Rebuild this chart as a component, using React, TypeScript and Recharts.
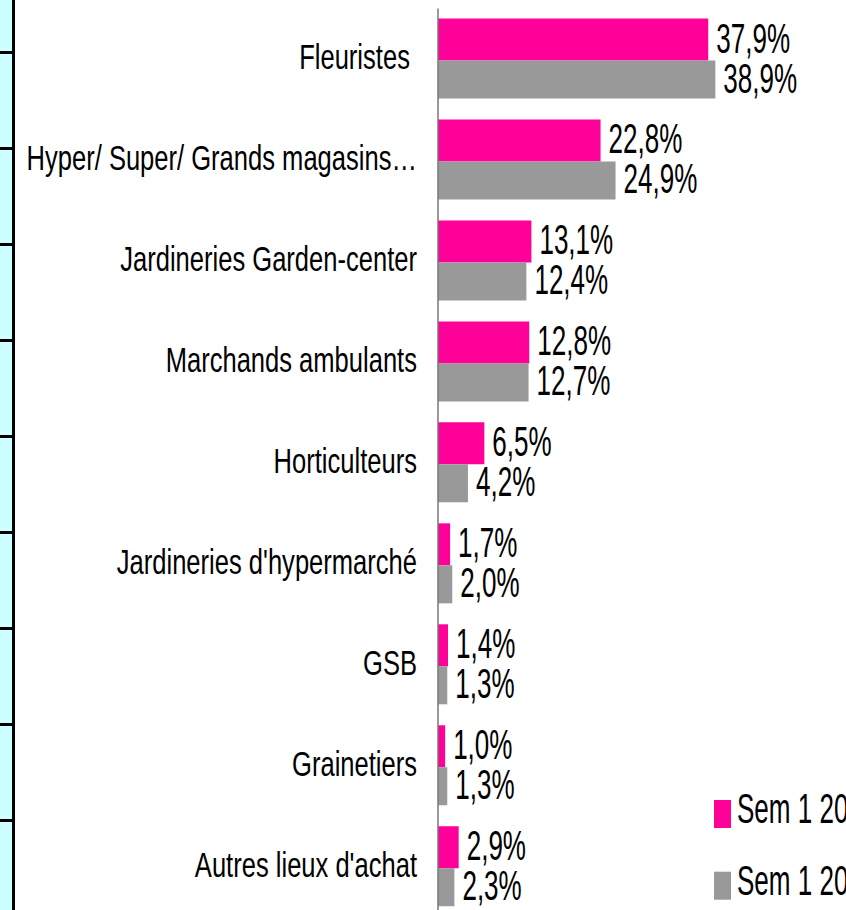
import React from 'react';
import { BarChart, Bar, XAxis, YAxis, Legend, LabelList } from 'recharts';

const categories = [
  'Fleuristes ',
  'Hyper/ Super/ Grands magasins…',
  'Jardineries Garden-center',
  'Marchands ambulants',
  'Horticulteurs',
  "Jardineries d'hypermarché",
  'GSB',
  'Grainetiers',
  "Autres lieux d'achat",
];
const seriesNames = ['Sem 1 2009', 'Sem 1 2008'];
const valuesA = [37.9, 22.8, 13.1, 12.8, 6.5, 1.7, 1.4, 1.0, 2.9];
const valuesB = [38.9, 24.9, 12.4, 12.7, 4.2, 2.0, 1.3, 1.3, 2.3];
const stripTickCount = 9;

const data = categories.map((name, i) => ({ name, a: valuesA[i], b: valuesB[i] }));

const FONT = '"Liberation Sans", Arial, sans-serif';
const PINK = '#FF0099';
const GRAY = '#999999';

const fmt = (v: number) => v.toFixed(1).replace('.', ',') + '%';

const CategoryTick = (props: any) => {
  const { x, y, payload } = props;
  return (
    <text
      transform={`translate(${x - 21},${y + 10.5}) scale(0.71,1)`}
      textAnchor="end"
      fontSize={36}
      fontFamily={FONT}
      fill="#000"
      style={{ whiteSpace: 'pre' }}
    >
      {payload.value}
    </text>
  );
};

const ValueLabel = (props: any) => {
  const { x, y, width, height, value } = props;
  return (
    <text
      transform={`translate(${x + width + 8},${y + height / 2 + 13}) scale(0.62,1)`}
      fontSize={42}
      fontFamily={FONT}
      fill="#000"
    >
      {fmt(value)}
    </text>
  );
};

const LegendContent = (props: any) => {
  const payload = [...(props.payload || [])].sort(
    (p: any, q: any) => seriesNames.indexOf(p.value) - seriesNames.indexOf(q.value)
  );
  return (
    <svg width={132} height={120} style={{ display: 'block' }}>
      {payload.map((p: any, i: number) => (
        <g key={i}>
          <rect x={0} y={10 + i * 71.7} width={17} height={28} fill={p.color} />
          <text
            transform={`translate(23,${10 + i * 71.7 + 23}) scale(0.62,1)`}
            fontSize={42}
            fontFamily={FONT}
            fill="#000"
          >
            {p.value}
          </text>
        </g>
      ))}
    </svg>
  );
};

export default function App() {
  const ticks = Array.from({ length: stripTickCount }, (_, i) => 52 + i * 96);
  return (
    <div
      style={{
        position: 'fixed',
        left: 0,
        top: 0,
        width: 846,
        height: 910,
        overflow: 'hidden',
        background: '#fff',
      }}
    >
      <div style={{ position: 'absolute', left: 0, top: 0, width: 12, height: 910, background: '#CCFFFF' }} />
      <div style={{ position: 'absolute', left: 12, top: 0, width: 3, height: 910, background: '#000' }} />
      {ticks.map((t) => (
        <div key={t} style={{ position: 'absolute', left: 0, top: t - 1.5, width: 13, height: 3, background: '#000' }} />
      ))}
      <div style={{ position: 'absolute', left: 0, top: 0 }}>
        <BarChart
          width={846}
          height={930}
          data={data}
          layout="vertical"
          margin={{ top: 8.5, right: 51.5, bottom: 12.8, left: 0 }}
          barGap={0}
        >
          <XAxis type="number" domain={[0, 50]} hide />
          <YAxis
            type="category"
            dataKey="name"
            width={438}
            axisLine={{ stroke: '#777777', strokeWidth: 1.5 }}
            tickLine={false}
            tickSize={0}
            tickMargin={0}
            tick={<CategoryTick />}
            interval={0}
          />
          <Legend
            layout="vertical"
            align="center"
            verticalAlign="middle"
            itemSorter={null as any}
            content={<LegendContent />}
            wrapperStyle={{ left: 714, top: 790, width: 132, height: 120 }}
          />
          <Bar dataKey="a" name={seriesNames[0]} fill={PINK} barSize={42} isAnimationActive={false}>
            <LabelList dataKey="a" content={<ValueLabel />} />
          </Bar>
          <Bar dataKey="b" name={seriesNames[1]} fill={GRAY} barSize={38} isAnimationActive={false}>
            <LabelList dataKey="b" content={<ValueLabel />} />
          </Bar>
        </BarChart>
      </div>
    </div>
  );
}
